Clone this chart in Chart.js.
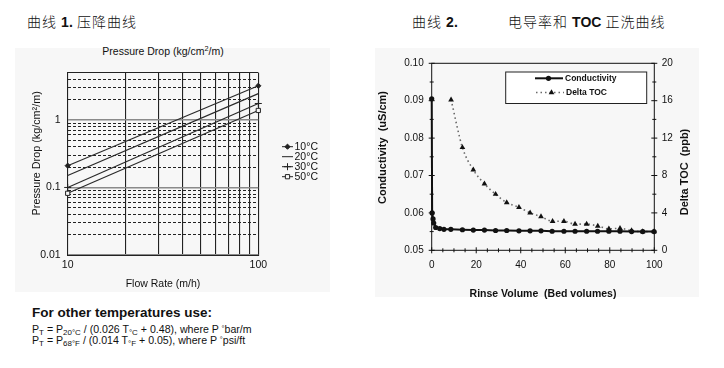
<!DOCTYPE html>
<html>
<head>
<meta charset="utf-8">
<style>
  body { margin:0; width:724px; height:368px; position:relative; overflow:hidden; background:#fff; color:#111; font-family:"Liberation Sans", Arial, sans-serif; }
  .abs { position:absolute; white-space:nowrap; }
  .panel { position:absolute; background:#f7f7f7; }
  .cjk { font-family:"Noto Sans CJK SC", sans-serif; font-size:14px; line-height:16px; letter-spacing:1px; font-weight:300; }
  .cjk b { font-family:"Liberation Sans", Arial, sans-serif; letter-spacing:0; font-weight:700; }
  .formula { font-size:10.6px; line-height:11px; }
  .formula sub { font-size:75%; vertical-align:-2px; line-height:0; }
  .formula sup { font-size:70%; vertical-align:2px; line-height:0; }
  canvas { position:absolute; }
</style>
</head>
<body>
<div class="panel" style="left:15px;top:48px;width:315px;height:244px"></div>
<div class="panel" style="left:375px;top:48px;width:324px;height:249px"></div>

<div class="abs cjk" style="left:27px;top:13px">曲线 <b>1.</b> 压降曲线</div>
<div class="abs cjk" style="left:412px;top:13px">曲线 <b>2.</b></div>
<div class="abs cjk" style="left:508px;top:13px">电导率和 <b>TOC</b> 正洗曲线</div>

<div class="abs" style="left:163px;top:45px;transform:translateX(-50%);font-size:10.5px;line-height:12px">Pressure Drop (kg/cm<sup style="font-size:70%;line-height:0">2</sup>/m)</div>

<canvas id="chartPD" width="362" height="250" style="left:0;top:40px;width:362px;height:250px"></canvas>
<canvas id="chartRV" width="362" height="260" style="left:362px;top:40px;width:362px;height:260px"></canvas>

<div class="abs" style="left:32px;top:305px;font-weight:bold;font-size:13.5px;line-height:16px">For other temperatures use:</div>
<div class="abs formula" style="left:32px;top:324px">P<sub>T</sub> = P<sub>20°C</sub> / (0.026 T<sub>°C</sub> + 0.48), where P <sup>°</sup>bar/m</div>
<div class="abs formula" style="left:32px;top:335px">P<sub>T</sub> = P<sub>68°F</sub> / (0.014 T<sub>°F</sub> + 0.05), where P <sup>°</sup>psi/ft</div>

<script src="https://cdn.jsdelivr.net/npm/chart.js"></script>
<script>
    // curve 1: pressure drop vs flow rate (log-log, straight lines)
    var flowRates = [10, 100]
    var tempLabels = ['10°C', '20°C', '30°C', '50°C']
    var drop10 = [0.21, 3.2]
    var drop20 = [0.15, 2.45]
    var drop30 = [0.10, 1.75]
    var drop50 = [0.082, 1.38]
    var flowTicks = [10, 20, 30, 40, 50, 60, 70, 80, 90, 100]
    var flowLabels = [10, 100]
    var dropTicks = [0.01, 0.02, 0.03, 0.04, 0.05, 0.06, 0.07, 0.08, 0.09,
                     0.1, 0.2, 0.3, 0.4, 0.5, 0.6, 0.7, 0.8, 0.9,
                     1, 2, 3, 4, 5]
    var dropLabels = [0.01, 0.1, 1]

    // curve 2: conductivity and TOC rinse-up
    var rinseCond = [0, 0.2, 0.6, 0.9, 1.8, 3.6, 5.5, 8.6, 13.8, 18.7, 23.7, 28.7, 33.7,
                     39.2, 44.2, 49.1, 54.1, 59.4, 64.4, 69.6, 74.5, 79.6, 84.6, 89.8, 94.8, 99.9]
    var condValues = [0.0905, 0.0600, 0.0584, 0.0573, 0.0561, 0.0558, 0.0556, 0.0556, 0.0555,
                      0.0554, 0.0554, 0.0553, 0.0553, 0.0552, 0.0552, 0.0552, 0.0551, 0.0551,
                      0.0551, 0.0551, 0.0551, 0.0551, 0.0551, 0.0550, 0.0550, 0.0550]
    var rinseToc = [8.7, 13.8, 18.7, 23.7, 28.7, 33.7, 39.2, 44.2, 49.1, 54.3,
                    59.4, 64.4, 69.6, 74.6, 79.6, 84.6, 89.8, 94.8, 99.9]
    var tocValues = [16.1, 11.0, 8.6, 7.1, 6.0, 5.1, 4.6, 4.0, 3.6, 3.1,
                     3.1, 2.8, 2.8, 2.6, 2.3, 2.35, 2.1, 2.0, 2.0]
    var rinseTicks = [0, 20, 40, 60, 80, 100]
    var condTicks = [0.05, 0.06, 0.07, 0.08, 0.09, 0.10]
    var tocTicks = [0, 4, 8, 12, 16, 20]

    var pairs = (xs, ys) => xs.map((x, i) => ({x: x, y: ys[i]}))
    var isDecade = v => Math.abs(Math.log10(v) - Math.round(Math.log10(v))) < 1e-9

    Chart.defaults.font.family = '"Liberation Sans", Arial, sans-serif'
    Chart.defaults.color = '#111'

    // ---------- chart 1 ----------
    var legendPD = {
        id: 'legendPD',
        afterDraw(chart) {
            var c = chart.ctx
            c.save()
            // y title, reading upwards
            c.translate(36.7, 113.3)
            c.rotate(-Math.PI / 2)
            c.font = '10.8px "Liberation Sans"'
            c.fillStyle = '#111'
            c.textAlign = 'center'
            c.textBaseline = 'middle'
            c.fillText('Pressure Drop (kg/cm²/m)', 0, 0)
            c.restore()

            chart.data.datasets.forEach((ds, i) => {
                var y = 106.7 + i * 10
                c.save()
                c.strokeStyle = '#222'
                c.lineWidth = 1
                c.beginPath(); c.moveTo(282, y); c.lineTo(293, y); c.stroke()
                if (ds.pointRadius > 0) {
                    c.fillStyle = ds.pointBackgroundColor
                    Chart.helpers.drawPoint(c, {pointStyle: ds.pointStyle, radius: ds.pointRadius, borderWidth: 1, rotation: 0}, 287.5, y)
                }
                c.fillStyle = '#111'
                c.font = '10.5px "Liberation Sans"'
                c.textBaseline = 'middle'
                c.fillText(ds.label, 294.5, y + 0.5)
                c.restore()
            })
        }
    }

    var styles = [
        {pointStyle: 'rectRot', pointRadius: 2.6, pointBackgroundColor: '#222'},
        {pointStyle: 'circle', pointRadius: 0, pointBackgroundColor: '#222'},
        {pointStyle: 'cross', pointRadius: 3.5, pointBackgroundColor: '#222'},
        {pointStyle: 'rect', pointRadius: 3, pointBackgroundColor: '#f7f7f7'}
    ]
    var drops = [drop10, drop20, drop30, drop50]

    var ctxPD = document.getElementById('chartPD')
    var chartPD = new Chart(ctxPD, {
        type: 'line',
        data: {
            datasets: drops.map((d, i) => Object.assign({
                label: tempLabels[i],
                data: pairs(flowRates, d),
                borderColor: '#2a2a2a',
                borderWidth: 1.2,
                pointBorderColor: '#222',
                pointBorderWidth: 1,
                fill: false,
                clip: 8
            }, styles[i]))
        },
        options: {
            responsive: false,
            animation: false,
            layout: { padding: { left: 0, right: 103.7, top: 32.7, bottom: 0 } },
            plugins: { legend: { display: false }, tooltip: { enabled: false } },
            scales: {
                x: {
                    type: 'logarithmic', min: 10, max: 100,
                    afterBuildTicks: s => { s.ticks = flowTicks.map(v => ({value: v})) },
                    afterFit: s => { s.height = 35 },
                    ticks: { autoSkip: false, maxRotation: 0, padding: 4, font: { size: 10.5 },
                             callback: v => flowLabels.includes(v) ? String(v) : '' },
                    grid: { color: '#222', lineWidth: 1.1, drawTicks: false },
                    border: { color: '#222', width: 1 },
                    title: { display: true, text: 'Flow Rate (m/h)', font: { size: 10.5 }, padding: { top: 6.4, bottom: 0 } }
                },
                y: {
                    type: 'logarithmic', min: 0.01, max: 5,
                    afterBuildTicks: s => { s.ticks = dropTicks.map(v => ({value: v})) },
                    afterFit: s => { s.width = 67.7 },
                    ticks: { autoSkip: false, padding: 7, font: { size: 10.5 },
                             callback: v => dropLabels.includes(v) ? String(v) : '' },
                    grid: {
                        drawTicks: false,
                        color: ctx => (ctx.tick && isDecade(ctx.tick.value) ? '#8a8a8a' : '#222'),
                        lineWidth: ctx => (ctx.tick && isDecade(ctx.tick.value) ? 1.6 : 1)
                    },
                    border: {
                        color: '#222', width: 1,
                        dash: ctx => (ctx.tick && !isDecade(ctx.tick.value) && ctx.tick.value !== 5 ? [3, 2] : [])
                    }
                }
            }
        },
        plugins: [legendPD]
    })

    // ---------- chart 2 ----------
    var frameRV = {
        id: 'frameRV',
        afterDraw(chart) {
            var c = chart.ctx
            var a = chart.chartArea
            var sx = chart.scales.x, sy = chart.scales.y, s2 = chart.scales.y2
            c.save()
            c.strokeStyle = '#111'
            c.lineWidth = 1
            c.strokeRect(a.left, a.top, a.right - a.left, a.bottom - a.top)
            c.beginPath()
            for (var v = 0; v <= 100.001; v += 5) {
                var px = sx.getPixelForValue(v), l = (v % 20 === 0) ? 3 : 2
                c.moveTo(px, a.bottom - l); c.lineTo(px, a.bottom + l)
            }
            for (var k = 0; k <= 10; k++) {
                var py = sy.getPixelForValue(0.05 + k * 0.005), l2 = (k % 2 === 0) ? 3 : 2
                c.moveTo(a.left - l2, py); c.lineTo(a.left + l2, py)
            }
            for (var t = 0; t <= 20; t += 2) {
                var py2 = s2.getPixelForValue(t), l3 = (t % 4 === 0) ? 3 : 2
                c.moveTo(a.right - l3, py2); c.lineTo(a.right + l3, py2)
            }
            c.stroke()

            // axis titles, both reading upwards
            c.fillStyle = '#111'
            c.font = 'bold 11px "Liberation Sans"'
            c.textAlign = 'center'
            c.textBaseline = 'middle'
            c.save(); c.translate(20.7, 107.5); c.rotate(-Math.PI / 2)
            c.fillText('Conductivity  (uS/cm)', 0, 0); c.restore()
            c.save(); c.translate(323, 132); c.rotate(-Math.PI / 2)
            c.fillText('Delta TOC  (ppb)', 0, 0); c.restore()

            // legend box
            c.fillStyle = '#fff'
            c.fillRect(143.7, 32, 141, 31.5)
            c.strokeStyle = '#222'
            c.strokeRect(143.7, 32, 141, 31.5)
            var d0 = chart.data.datasets[0], d1 = chart.data.datasets[1]
            c.strokeStyle = d0.borderColor; c.lineWidth = d0.borderWidth
            c.beginPath(); c.moveTo(173, 38.3); c.lineTo(201, 38.3); c.stroke()
            c.fillStyle = '#111'
            Chart.helpers.drawPoint(c, {pointStyle: 'circle', radius: d0.pointRadius, borderWidth: 0, rotation: 0}, 186.5, 38.3)
            c.strokeStyle = d1.borderColor; c.lineWidth = d1.borderWidth
            c.setLineDash(d1.borderDash)
            c.beginPath(); c.moveTo(174, 52.5); c.lineTo(202, 52.5); c.stroke()
            c.setLineDash([])
            Chart.helpers.drawPoint(c, {pointStyle: 'triangle', radius: d1.pointRadius, borderWidth: 0, rotation: 0}, 189.5, 52.5)
            c.fillStyle = '#111'
            c.font = 'bold 8.5px "Liberation Sans"'
            c.textAlign = 'left'
            c.fillText(d0.label, 203, 38.5)
            c.fillText(d1.label, 204, 52.7)
            c.restore()
        }
    }

    var ctxRV = document.getElementById('chartRV')
    var chartRV = new Chart(ctxRV, {
        type: 'line',
        data: {
            datasets: [{
                label: 'Conductivity',
                yAxisID: 'y',
                data: pairs(rinseCond, condValues),
                borderColor: '#111',
                borderWidth: 2,
                pointStyle: 'circle',
                pointRadius: 2.6,
                pointBackgroundColor: '#111',
                pointBorderWidth: 0,
                fill: false,
                clip: 6
            }, {
                label: 'Delta TOC',
                yAxisID: 'y2',
                data: pairs(rinseToc, tocValues),
                borderColor: '#6a6a6a',
                borderWidth: 1.6,
                borderDash: [1.5, 3],
                cubicInterpolationMode: 'monotone',
                pointStyle: 'triangle',
                pointRadius: 3.3,
                pointBackgroundColor: '#111',
                pointBorderWidth: 0,
                fill: false,
                clip: 6
            }]
        },
        options: {
            responsive: false,
            animation: false,
            layout: { padding: { left: 0, right: 0, top: 23.3, bottom: 0 } },
            plugins: { legend: { display: false }, tooltip: { enabled: false } },
            scales: {
                x: {
                    type: 'linear', min: 0, max: 100,
                    afterBuildTicks: s => { s.ticks = rinseTicks.map(v => ({value: v})) },
                    afterFit: s => { s.height = 49.7 },
                    ticks: { padding: 9, font: { size: 10 }, maxRotation: 0 },
                    grid: { display: false, drawTicks: false },
                    border: { display: false },
                    title: { display: true, text: 'Rinse Volume  (Bed volumes)', font: { size: 10.5, weight: 'bold' }, padding: { top: 7, bottom: 0 } }
                },
                y: {
                    type: 'linear', position: 'left', min: 0.05, max: 0.10,
                    afterBuildTicks: s => { s.ticks = condTicks.map(v => ({value: v})) },
                    afterFit: s => { s.width = 69.7 },
                    ticks: { padding: 8, font: { size: 10 }, callback: v => v.toFixed(2) },
                    grid: { display: false, drawTicks: false },
                    border: { display: false }
                },
                y2: {
                    type: 'linear', position: 'right', min: 0, max: 20,
                    afterBuildTicks: s => { s.ticks = tocTicks.map(v => ({value: v})) },
                    afterFit: s => { s.width = 69.7 },
                    ticks: { padding: 7.5, font: { size: 10 } },
                    grid: { display: false, drawTicks: false },
                    border: { display: false }
                }
            }
        },
        plugins: [frameRV]
    })
</script>
</body>
</html>
